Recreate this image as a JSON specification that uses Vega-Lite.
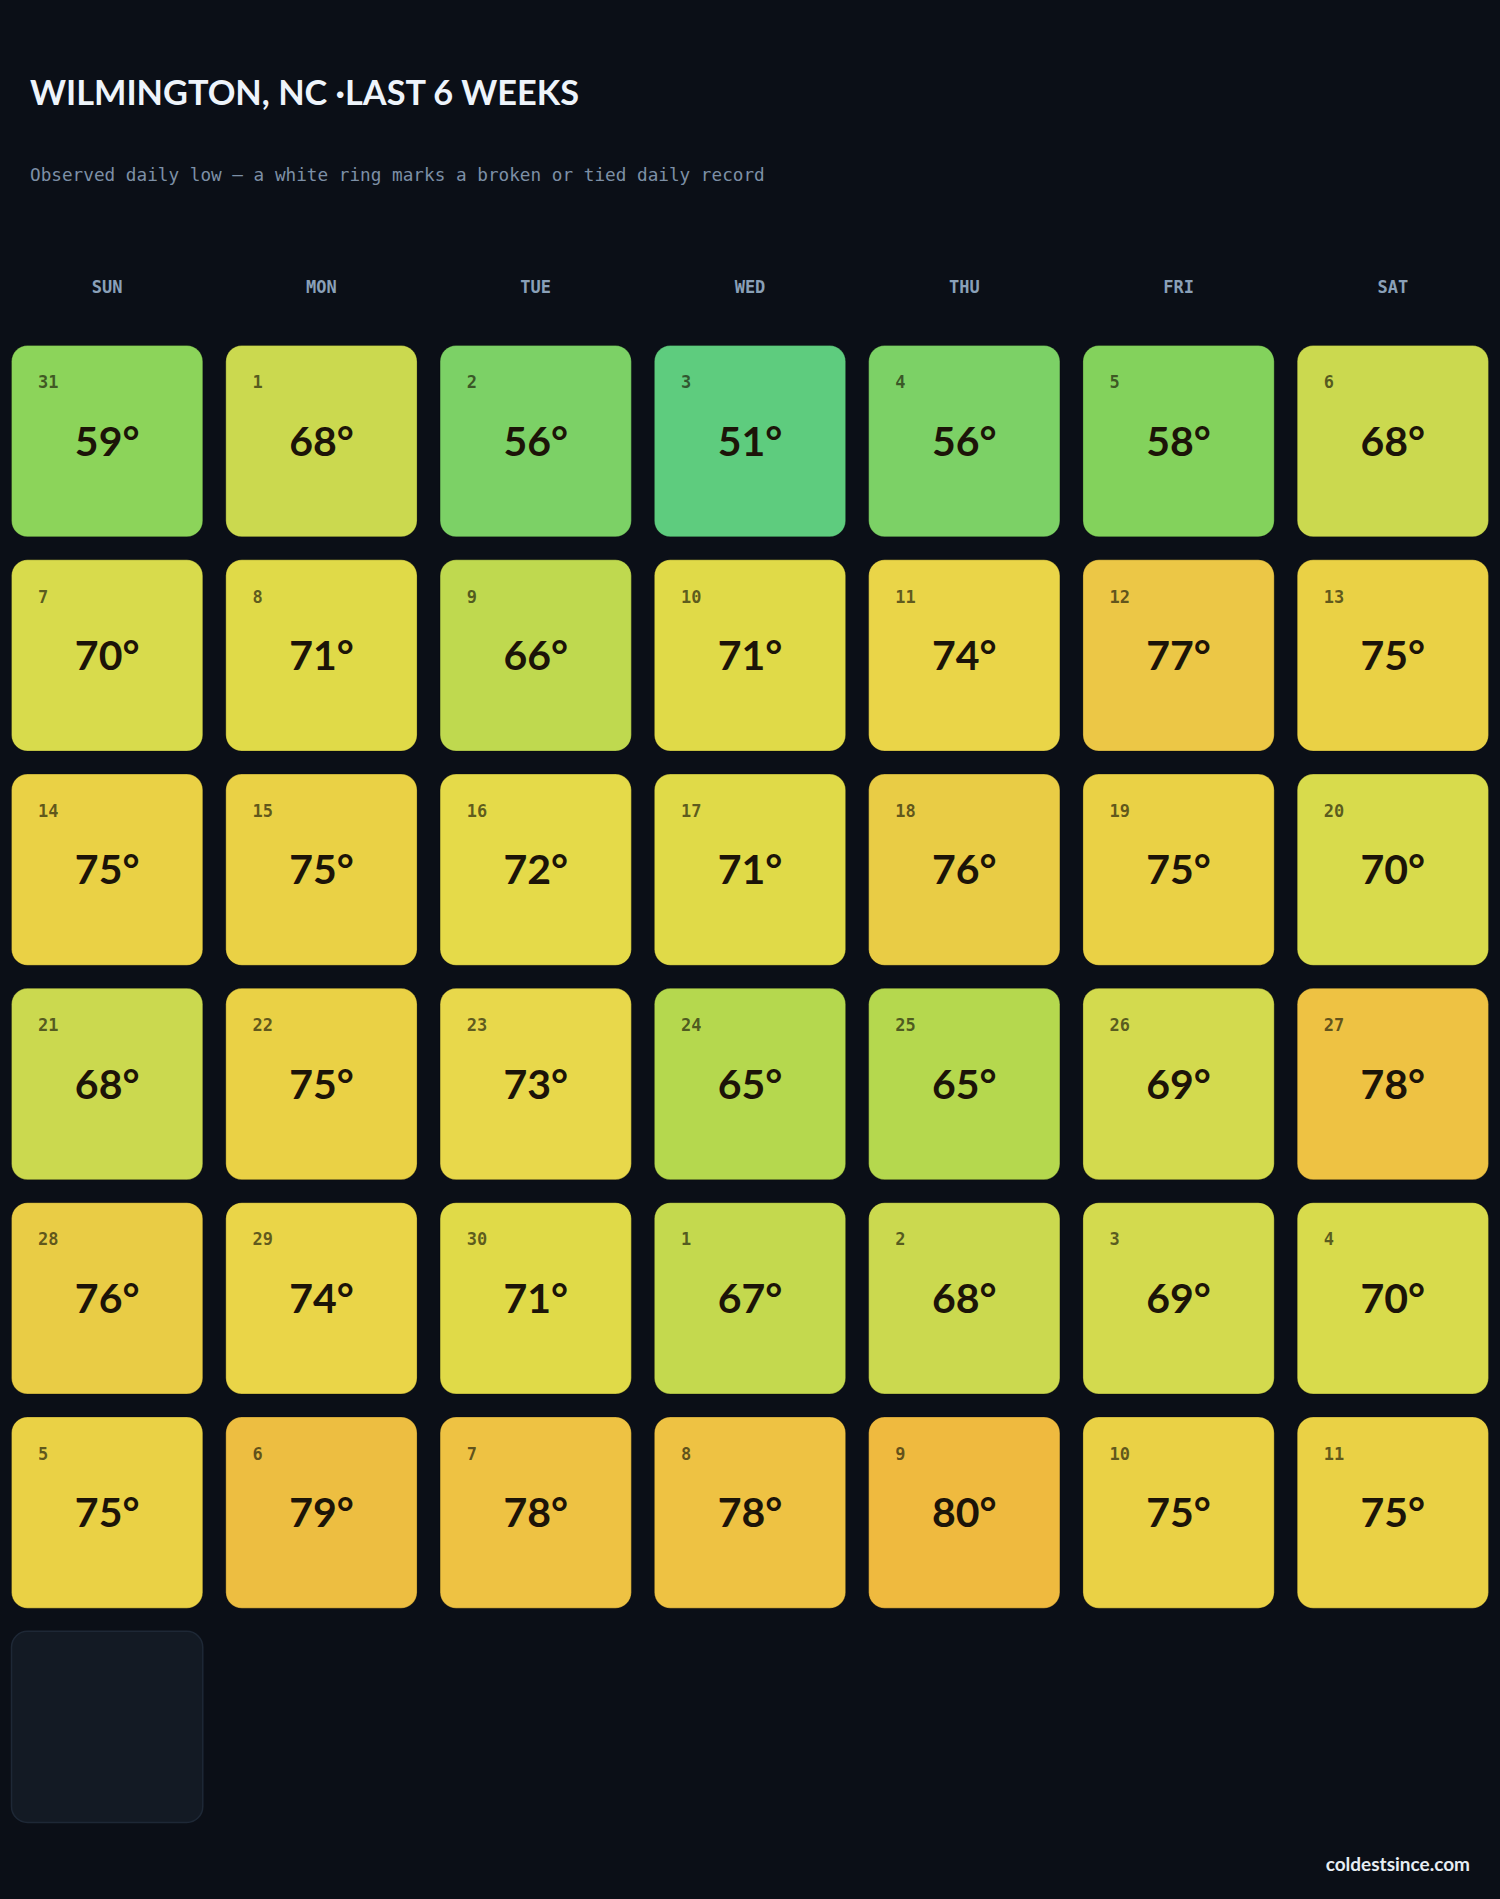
{
  "$schema": "https://vega.github.io/schema/vega-lite/v6.json",
  "background": "#0b0f17",
  "autosize": {"type": "none"},
  "padding": {"left": 0, "top": 334, "right": 0, "bottom": 65},
  "width": 1500,
  "height": 1500,
  "title": {
    "text": "WILMINGTON, NC ·LAST 6 WEEKS",
    "subtitle": "Observed daily low — a white ring marks a broken or tied daily record",
    "anchor": "start",
    "frame": "group",
    "orient": "top",
    "dx": 30,
    "offset": 93,
    "font": "Lato",
    "fontSize": 34.3,
    "fontWeight": "bold",
    "color": "#eef4fb",
    "subtitleFont": "DejaVu Sans Mono",
    "subtitleFontSize": 17.7,
    "subtitleColor": "#7d8fa6",
    "subtitlePadding": 55
  },
  "data": {
    "values": [
      {"week": 0, "dow": "SUN", "day": 31, "temp": 59, "label": "59°"},
      {"week": 0, "dow": "MON", "day": 1, "temp": 68, "label": "68°"},
      {"week": 0, "dow": "TUE", "day": 2, "temp": 56, "label": "56°"},
      {"week": 0, "dow": "WED", "day": 3, "temp": 51, "label": "51°"},
      {"week": 0, "dow": "THU", "day": 4, "temp": 56, "label": "56°"},
      {"week": 0, "dow": "FRI", "day": 5, "temp": 58, "label": "58°"},
      {"week": 0, "dow": "SAT", "day": 6, "temp": 68, "label": "68°"},
      {"week": 1, "dow": "SUN", "day": 7, "temp": 70, "label": "70°"},
      {"week": 1, "dow": "MON", "day": 8, "temp": 71, "label": "71°"},
      {"week": 1, "dow": "TUE", "day": 9, "temp": 66, "label": "66°"},
      {"week": 1, "dow": "WED", "day": 10, "temp": 71, "label": "71°"},
      {"week": 1, "dow": "THU", "day": 11, "temp": 74, "label": "74°"},
      {"week": 1, "dow": "FRI", "day": 12, "temp": 77, "label": "77°"},
      {"week": 1, "dow": "SAT", "day": 13, "temp": 75, "label": "75°"},
      {"week": 2, "dow": "SUN", "day": 14, "temp": 75, "label": "75°"},
      {"week": 2, "dow": "MON", "day": 15, "temp": 75, "label": "75°"},
      {"week": 2, "dow": "TUE", "day": 16, "temp": 72, "label": "72°"},
      {"week": 2, "dow": "WED", "day": 17, "temp": 71, "label": "71°"},
      {"week": 2, "dow": "THU", "day": 18, "temp": 76, "label": "76°"},
      {"week": 2, "dow": "FRI", "day": 19, "temp": 75, "label": "75°"},
      {"week": 2, "dow": "SAT", "day": 20, "temp": 70, "label": "70°"},
      {"week": 3, "dow": "SUN", "day": 21, "temp": 68, "label": "68°"},
      {"week": 3, "dow": "MON", "day": 22, "temp": 75, "label": "75°"},
      {"week": 3, "dow": "TUE", "day": 23, "temp": 73, "label": "73°"},
      {"week": 3, "dow": "WED", "day": 24, "temp": 65, "label": "65°"},
      {"week": 3, "dow": "THU", "day": 25, "temp": 65, "label": "65°"},
      {"week": 3, "dow": "FRI", "day": 26, "temp": 69, "label": "69°"},
      {"week": 3, "dow": "SAT", "day": 27, "temp": 78, "label": "78°"},
      {"week": 4, "dow": "SUN", "day": 28, "temp": 76, "label": "76°"},
      {"week": 4, "dow": "MON", "day": 29, "temp": 74, "label": "74°"},
      {"week": 4, "dow": "TUE", "day": 30, "temp": 71, "label": "71°"},
      {"week": 4, "dow": "WED", "day": 1, "temp": 67, "label": "67°"},
      {"week": 4, "dow": "THU", "day": 2, "temp": 68, "label": "68°"},
      {"week": 4, "dow": "FRI", "day": 3, "temp": 69, "label": "69°"},
      {"week": 4, "dow": "SAT", "day": 4, "temp": 70, "label": "70°"},
      {"week": 5, "dow": "SUN", "day": 5, "temp": 75, "label": "75°"},
      {"week": 5, "dow": "MON", "day": 6, "temp": 79, "label": "79°"},
      {"week": 5, "dow": "TUE", "day": 7, "temp": 78, "label": "78°"},
      {"week": 5, "dow": "WED", "day": 8, "temp": 78, "label": "78°"},
      {"week": 5, "dow": "THU", "day": 9, "temp": 80, "label": "80°"},
      {"week": 5, "dow": "FRI", "day": 10, "temp": 75, "label": "75°"},
      {"week": 5, "dow": "SAT", "day": 11, "temp": 75, "label": "75°"},
      {"week": 6, "dow": "SUN", "day": null, "temp": null, "label": null}
    ]
  },
  "encoding": {
    "x": {
      "field": "dow",
      "type": "nominal",
      "sort": ["SUN", "MON", "TUE", "WED", "THU", "FRI", "SAT"],
      "scale": {"domain": ["SUN", "MON", "TUE", "WED", "THU", "FRI", "SAT"], "paddingInner": 0.10748, "paddingOuter": 0.05374},
      "axis": {
        "orient": "top",
        "title": null,
        "domain": false,
        "ticks": false,
        "tickSize": 0,
        "grid": false,
        "labelAngle": 0,
        "labelFont": "DejaVu Sans Mono",
        "labelFontWeight": "bold",
        "labelFontSize": 17,
        "labelColor": "#8aa0b8",
        "labelBaseline": "alphabetic",
        "labelPadding": 42
      }
    },
    "y": {
      "field": "week",
      "type": "ordinal",
      "scale": {"domain": [0, 1, 2, 3, 4, 5, 6], "paddingInner": 0.10748, "paddingOuter": 0.05374},
      "axis": null
    }
  },
  "layer": [
    {
      "transform": [{"filter": "datum.temp != null"}],
      "mark": {"type": "rect", "cornerRadius": 16, "stroke": "#000000", "strokeOpacity": 0.25, "strokeWidth": 1},
      "encoding": {
        "color": {
          "field": "temp",
          "type": "quantitative",
          "legend": null,
          "scale": {
            "domain": [51, 56, 58, 59, 65, 66, 67, 68, 69, 70, 71, 72, 73, 74, 75, 76, 77, 78, 79, 80],
            "range": ["#5ecc7e", "#7cd166", "#83d25c", "#8cd45a", "#b5d84e", "#bfd94f", "#c4d94e", "#cbd94f", "#d3da4e", "#d8db4c", "#e0da48", "#e5da49", "#e8d84b", "#ead548", "#ead145", "#e9cc45", "#ecc746", "#eec243", "#edbe41", "#efba3f"],
            "interpolate": "rgb"
          }
        }
      }
    },
    {
      "transform": [{"filter": "datum.temp == null"}],
      "mark": {"type": "rect", "cornerRadius": 16, "fill": "#131a24", "stroke": "#1e2836", "strokeWidth": 1.5}
    },
    {
      "transform": [{"filter": "datum.temp != null"}],
      "mark": {"type": "text", "align": "left", "baseline": "alphabetic", "dx": 26.6, "dy": 42.8, "font": "DejaVu Sans Mono", "fontWeight": "bold", "fontSize": 17, "fill": "#1a1a08", "fillOpacity": 0.68},
      "encoding": {
        "x": {"field": "dow", "type": "nominal", "sort": ["SUN", "MON", "TUE", "WED", "THU", "FRI", "SAT"], "bandPosition": 0},
        "y": {"field": "week", "type": "ordinal", "bandPosition": 0},
        "text": {"field": "day", "type": "nominal"}
      }
    },
    {
      "transform": [{"filter": "datum.temp != null"}],
      "mark": {"type": "text", "align": "center", "baseline": "alphabetic", "dy": 14.5, "font": "Lato", "fontWeight": "bold", "fontSize": 41, "fill": "#1c1408"},
      "encoding": {
        "text": {"field": "label", "type": "nominal"}
      }
    },
    {
      "data": {"values": [{"site": "coldestsince.com"}]},
      "mark": {"type": "text", "align": "right", "baseline": "alphabetic", "dx": -18.5, "dy": 48.5, "font": "Lato", "fontWeight": "bold", "fontSize": 19, "fill": "#e6edf3"},
      "encoding": {
        "x": {"datum": "SAT", "type": "nominal", "bandPosition": 1},
        "y": {"datum": 6, "type": "ordinal", "bandPosition": 1},
        "text": {"field": "site", "type": "nominal"}
      }
    }
  ],
  "config": {"view": {"stroke": null}}
}
